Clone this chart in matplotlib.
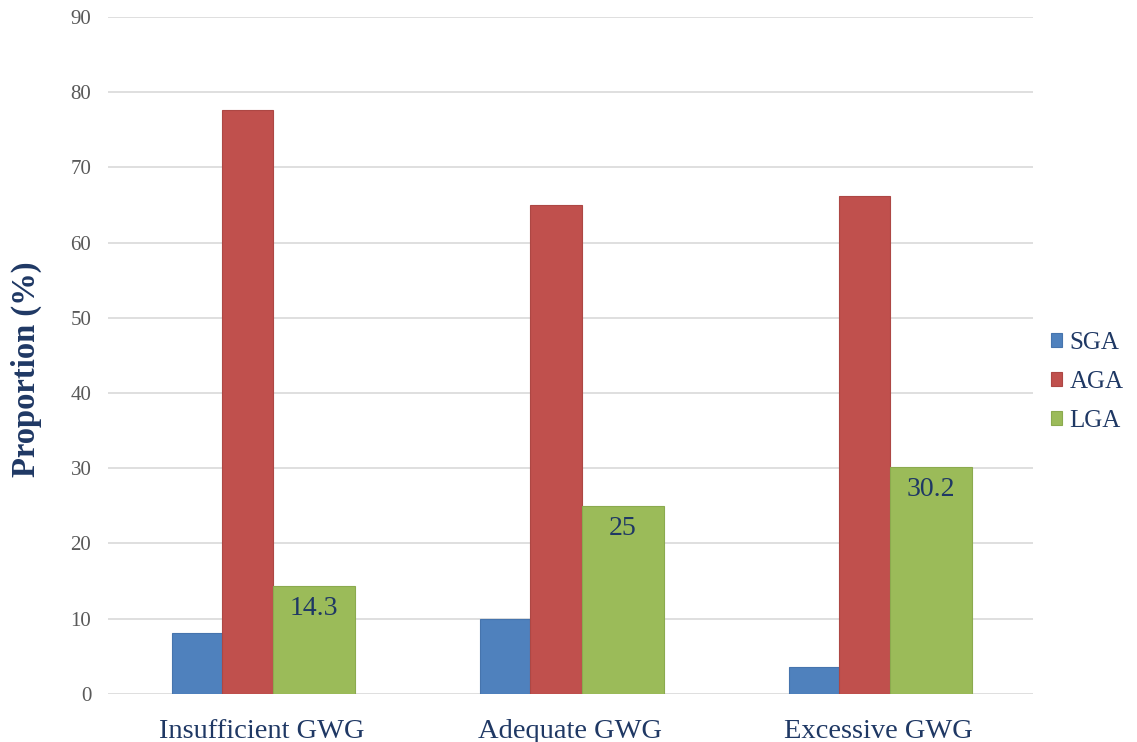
import numpy as np
import matplotlib
matplotlib.use('Agg')
import matplotlib.pyplot as plt

# data
categories = ["Insufficient GWG", "Adequate GWG", "Excessive GWG"]
sga = [8.1, 10.0, 3.5]
aga = [77.6, 65.0, 66.2]
lga = [14.3, 25.0, 30.2]
lga_labels = ["14.3", "25", "30.2"]

NAVY = "#1F3864"
plt.rcParams['font.family'] = ['Liberation Serif', 'DejaVu Serif']

fig = plt.figure(figsize=(11.37, 7.42), dpi=100)
ax = fig.add_axes([0.095, 0.065, 0.8135, 0.912])

x = np.arange(len(categories))
ax.bar(x - 0.292, sga, width=0.162, align='edge', color='#4F81BD',
       edgecolor='#4674AD', linewidth=0.8, label='SGA', zorder=3)
ax.bar(x - 0.130, aga, width=0.166, align='edge', color='#C0504D',
       edgecolor='#AD4744', linewidth=0.8, label='AGA', zorder=3)
bars = ax.bar(x + 0.036, lga, width=0.266, align='edge', color='#9BBB59',
              edgecolor='#8BAA4E', linewidth=0.8, label='LGA', zorder=3)

for b, txt in zip(bars, lga_labels):
    ax.text(b.get_x() + b.get_width() / 2, b.get_height() - 3.0, txt,
            ha='center', va='center', fontsize=20, color=NAVY, zorder=4)

ax.set_xlim(-0.5, 2.5)
ax.set_ylim(0, 90)
ax.set_yticks(np.arange(0, 91, 10))
ax.set_xticks(x)
ax.set_xticklabels(categories, fontsize=20.5, color=NAVY)
ax.tick_params(axis='y', length=0, pad=12, labelsize=15, labelcolor='#595959')
ax.tick_params(axis='x', length=0, pad=18)
ax.grid(axis='y', color='#D9D9D9', linewidth=1.2, zorder=0)
for s in ax.spines.values():
    s.set_visible(False)

ax.set_ylabel("Proportion (%)", fontsize=23.5, fontweight='bold', color=NAVY)
ax.yaxis.set_label_coords(-0.0714, 0.479)

leg = ax.legend(loc='center left', bbox_to_anchor=(0.995, 0.461), frameon=False,
                fontsize=18, handlelength=0.45, handleheight=0.45, handletextpad=0.3,
                labelspacing=0.68)
for t in leg.get_texts():
    t.set_color(NAVY)

fig.savefig("out.png", dpi=100)
